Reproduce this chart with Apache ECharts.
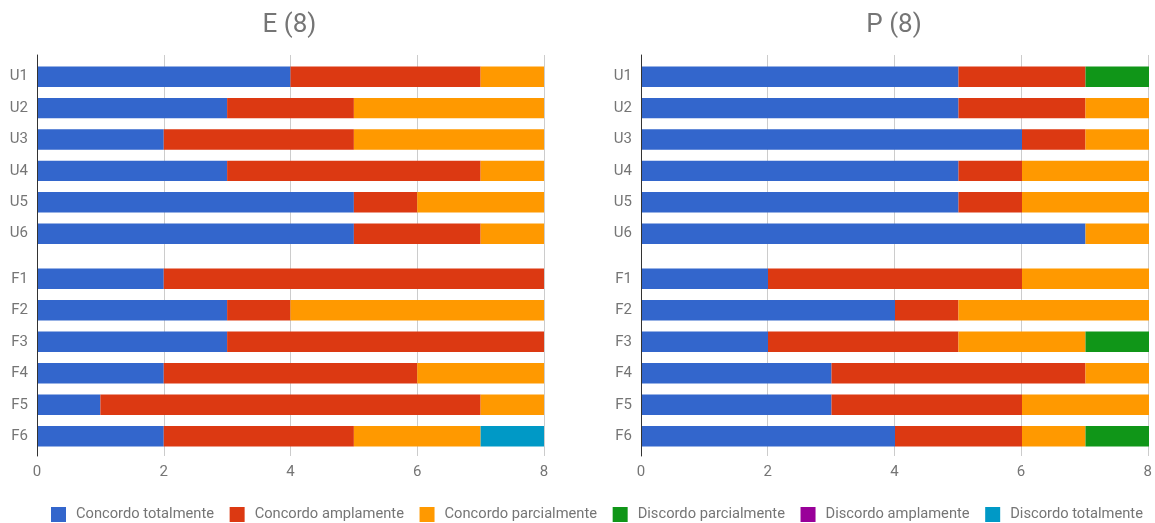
<!DOCTYPE html>
<html>
<head>
<meta charset="utf-8">
<script src="https://cdn.jsdelivr.net/npm/echarts@6/dist/echarts.min.js"></script>
<style>
html,body{margin:0;padding:0;background:#fff;}
#c{width:1155px;height:523px;}
</style>
</head>
<body>
<div id="c"></div>
<script>
// ---- data ----
const catsU = ['U1','U2','U3','U4','U5','U6'];
const catsF = ['F1','F2','F3','F4','F5','F6'];
const seriesNames = ['Concordo totalmente','Concordo amplamente','Concordo parcialmente','Discordo parcialmente','Discordo amplamente','Discordo totalmente'];
const colors = ['#3366cc','#dc3912','#ff9900','#109618','#990099','#0099c6'];
const xTicks = [0,2,4,6,8];
const chartTitles = ['E (8)','P (8)'];

// E chart: values per response, U1..U6 then F1..F6
const eConcTot  = [4,3,2,3,5,5, 2,3,3,2,1,2];
const eConcAmp  = [3,2,3,4,1,2, 6,1,5,4,6,3];
const eConcPar  = [1,3,3,1,2,1, 0,4,0,2,1,2];
const eDiscPar  = [0,0,0,0,0,0, 0,0,0,0,0,0];
const eDiscAmp  = [0,0,0,0,0,0, 0,0,0,0,0,0];
const eDiscTot  = [0,0,0,0,0,0, 0,0,0,0,0,1];

// P chart
const pConcTot  = [5,5,6,5,5,7, 2,4,2,3,3,4];
const pConcAmp  = [2,2,1,1,1,0, 4,1,3,4,3,2];
const pConcPar  = [0,1,1,2,2,1, 2,3,2,1,2,1];
const pDiscPar  = [1,0,0,0,0,0, 0,0,1,0,0,1];
const pDiscAmp  = [0,0,0,0,0,0, 0,0,0,0,0,0];
const pDiscTot  = [0,0,0,0,0,0, 0,0,0,0,0,0];

const eData = [eConcTot,eConcAmp,eConcPar,eDiscPar,eDiscAmp,eDiscTot];
const pData = [pConcTot,pConcAmp,pConcPar,pDiscPar,pDiscAmp,pDiscTot];

// ---- layout ----
const FONT = 'Roboto';
const TXT = '#757575';
const W = 1155;
const panels = [
  {l:37, r:544, center:289.5, data:eData},
  {l:641, r:1149, center:894, data:pData}
];

const grid=[], xAxis=[], yAxis=[], series=[], title=[];
panels.forEach((p,pi)=>{
  const base = grid.length;
  const right = W - p.r;
  grid.push({left:p.l, right:right, top:55, bottom:67});           // background
  grid.push({left:p.l, right:right, top:61, height:188.4});        // U
  grid.push({left:p.l, right:right, top:263.1, height:189});       // F
  xAxis.push({gridIndex:base, type:'value', min:0, max:8, interval:2,
    axisLine:{show:false}, axisTick:{show:false},
    axisLabel:{color:TXT, fontSize:15, fontFamily:FONT, margin:9},
    splitLine:{show:true, lineStyle:{color:'#cccccc', width:1}}});
  yAxis.push({gridIndex:base, type:'value', min:0, max:1, z:10,
    axisLine:{show:true, lineStyle:{color:'#333333', width:1}},
    axisTick:{show:false}, axisLabel:{show:false}, splitLine:{show:false}});
  [catsU, catsF].forEach((cats,gi)=>{
    xAxis.push({gridIndex:base+1+gi, type:'value', min:0, max:8, interval:2, show:false,
      splitLine:{show:false}});
    yAxis.push({gridIndex:base+1+gi, type:'category', data:cats, inverse:true,
      axisLine:{show:false}, axisTick:{show:false},
      axisLabel:{color:TXT, fontSize:15, fontFamily:FONT, margin:9},
      splitLine:{show:false}});
    p.data.forEach((vals,si)=>{
      const part = gi===0 ? vals.slice(0,6) : vals.slice(6,12);
      series.push({
        type:'bar', name:seriesNames[si], stack:'s'+pi+'_'+gi,
        xAxisIndex:base+1+gi, yAxisIndex:base+1+gi,
        data:part, barWidth:'65%',
        itemStyle:{color:colors[si]},
        emphasis:{disabled:true}, animation:false
      });
    });
  });
  title.push({text:chartTitles[pi], left:p.center, textAlign:'center', top:12, padding:0,
    textStyle:{color:TXT, fontSize:26, fontWeight:'normal', fontFamily:FONT}});
});

const chart = echarts.init(document.getElementById('c'), null, {renderer:'canvas'});
chart.setOption({
  animation:false,
  color:colors,
  title:title,
  grid:grid, xAxis:xAxis, yAxis:yAxis, series:series,
  legend:{
    data:seriesNames.map(n=>({name:n, icon:'rect'})),
    left:51, top:507, itemWidth:15, itemHeight:15, itemGap:15.6, padding:0,
    selectedMode:false,
    textStyle:{color:TXT, fontSize:14.7, fontFamily:FONT, padding:[0,0,0,5]}
  }
});
</script>
</body>
</html>
